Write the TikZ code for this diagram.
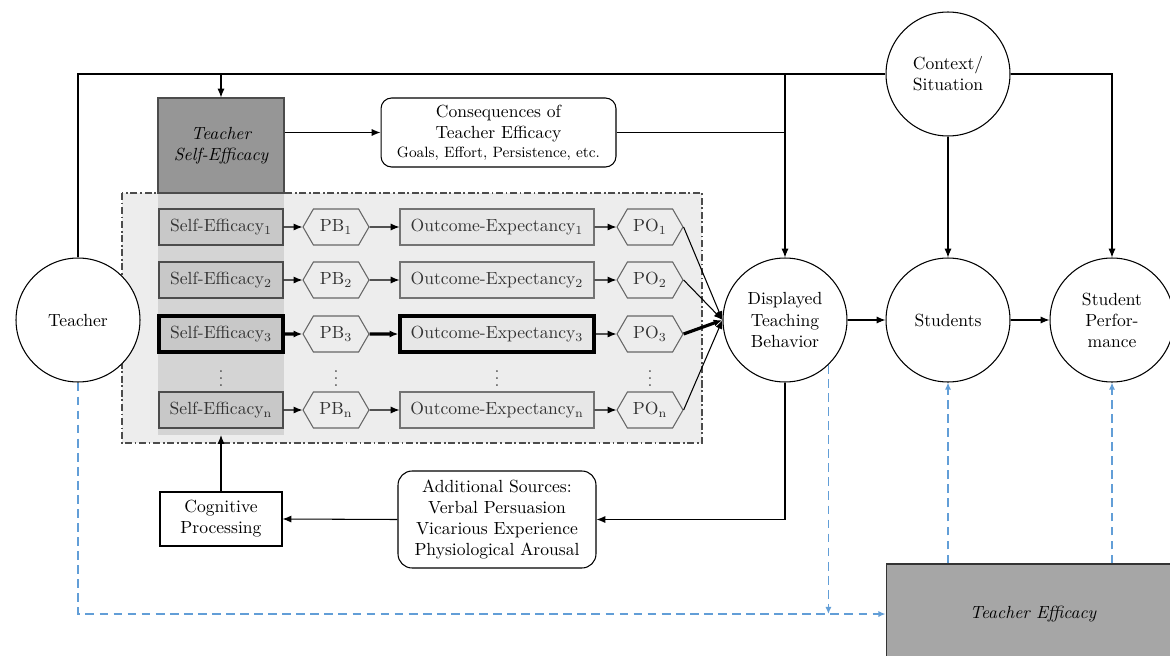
\documentclass[tikz,border=0pt]{standalone}
\usetikzlibrary{arrows.meta,shapes.symbols,calc}
\definecolor{dkgray}{RGB}{150,150,150}
\definecolor{tegray}{RGB}{166,166,166}
\definecolor{colgray}{RGB}{212,212,212}
\definecolor{segray}{RGB}{200,200,200}
\definecolor{bggray}{RGB}{237,237,237}
\definecolor{oegray}{RGB}{231,231,231}
\definecolor{dashblue}{RGB}{98,158,215}
\begin{document}
\begin{tikzpicture}[x=0.02cm,y=-0.02cm,>={Latex[length=5pt,width=4pt]},line width=0.6pt,
 circ/.style={circle,draw,minimum size=2.48cm,inner sep=0pt,align=center,fill=white},
 sebox/.style={draw=black!70,fill=segray,minimum width=2.48cm,minimum height=0.72cm,inner sep=0pt,text=black!80},
 hexa/.style={signal,signal to=east and west,signal pointer angle=120,draw=black!60,fill=bggray,minimum width=1.32cm,minimum height=0.72cm,inner sep=0pt,text=black!80},
 oebox/.style={draw=black!55,fill=oegray,minimum width=3.88cm,minimum height=0.72cm,inner sep=0pt,text=black!80},
 thickrow/.style={line width=1.8pt},
 fb/.style={draw=dashblue,dash pattern=on 5pt off 3pt,line width=0.8pt,>={Latex[length=4pt,width=3.5pt]}},
 vdot/.style={text=black!70,inner sep=0pt}
]
\useasboundingbox (0,0) rectangle (1170,656);

% background group
\fill[bggray] (122,193) rectangle (702,443);
\fill[colgray] (158,193) rectangle (284,435);
\node[draw=black!70,fill=dkgray,minimum width=2.52cm,minimum height=1.9cm,align=center,font=\itshape,inner sep=0pt] (tse) at (221,145.5) {Teacher\\Self-Efficacy};
\draw[black!70,dash pattern=on 4pt off 1.5pt on 1pt off 1.5pt,line width=0.7pt] (122,193) rectangle (702,443);

% circles
\node[circ] (teacher) at (78,320) {Teacher};
\node[circ] (disp) at (785,320) {Displayed\\Teaching\\Behavior};
\node[circ] (stud) at (948,320) {Students};
\node[circ] (perf) at (1112,320) {Student\\Perfor-\\mance};
\node[circ] (ctx) at (948,74) {Context/\\Situation};

% other boxes
\node[draw,rounded corners=6pt,minimum width=4.7cm,minimum height=1.38cm,align=center,inner sep=0pt] (cons) at (498.5,132.5)
 {Consequences of\\Teacher Efficacy\\[-1pt]{\fontsize{8.5}{10}\selectfont Goals, Effort, Persistence, etc.}};
\node[draw,minimum width=2.44cm,minimum height=1.08cm,align=center,inner sep=0pt] (cog) at (221,519) {Cognitive\\Processing};
\node[draw,rounded corners=8pt,minimum width=3.96cm,minimum height=1.94cm,align=center,inner sep=0pt] (add) at (497,519.5)
 {Additional Sources:\\Verbal Persuasion\\Vicarious Experience\\Physiological Arousal};
\node[draw=black!80,fill=tegray,minimum width=5.88cm,minimum height=2cm,font=\itshape,inner sep=0pt] (te) at (1033,614) {Teacher Efficacy};

% rows
\foreach \i/\y in {1/227,2/280,n/410}{
 \node[sebox] (se\i) at (221,\y) {Self-Efficacy$_{\mathrm{\i}}$};
 \node[hexa] (pb\i) at (336,\y) {PB$_{\mathrm{\i}}$};
 \node[oebox] (oe\i) at (497,\y) {Outcome-Expectancy$_{\mathrm{\i}}$};
 \node[hexa] (po\i) at (650,\y) {PO$_{\mathrm{\i}}$};
 \draw[->] (se\i) -- (pb\i);
 \draw[->] (pb\i) -- (oe\i);
 \draw[->] (oe\i) -- (po\i);
 \draw[->] (po\i.east) -- (disp.west);
}
\node[sebox,thickrow,draw=black] (se3) at (221,334) {Self-Efficacy$_{3}$};
\node[hexa] (pb3) at (336,334) {PB$_{3}$};
\node[oebox,thickrow,draw=black] (oe3) at (497,334) {Outcome-Expectancy$_{3}$};
\node[hexa] (po3) at (650,334) {PO$_{3}$};
\draw[->,thickrow] (se3) -- (pb3);
\draw[->,thickrow] (pb3) -- (oe3);
\draw[->] (oe3) -- (po3);
\draw[->,thickrow] (po3.east) -- (disp.west);

\node[vdot] (d1) at (221,373) {$\vdots$};
\node[vdot] (d2) at (336,373) {$\vdots$};
\node[vdot] (d3) at (497,373) {$\vdots$};
\node[vdot] (d4) at (650,373) {$\vdots$};

% top connections
\coordinate (jt) at (221,74);
\coordinate (jd) at (785,74);
\coordinate (colb) at (221,435);
\draw (ctx.west) -| (teacher.north);
\draw[->] (jt) -- (tse.north);
\draw[->] (jd) -- (disp.north);
\draw[->] (tse.east |- cons.west) -- (cons.west);
\draw[line width=0.4pt] (cons.east) -- (cons.east -| disp.north);
\draw[->] (ctx.south) -- (stud.north);
\draw[->] (ctx.east) -| (perf.north);
\draw[->] (disp.east) -- (stud.west);
\draw[->] (stud.east) -- (perf.west);

% feedback loop
\draw[->] (disp.south) |- (add.east);
\draw[->] (add.west) -- (cog.east);
\draw[->] (cog.north) -- (colb);

% blue dashed
\draw[fb,->] (teacher.south) |- (te.west);
\draw[fb,->] (disp.-46) -- (disp.-46 |- te.west);
\draw[fb,->] (te.north -| stud.south) -- (stud.south);
\draw[fb,->] (te.north -| perf.south) -- (perf.south);
\end{tikzpicture}
\end{document}
